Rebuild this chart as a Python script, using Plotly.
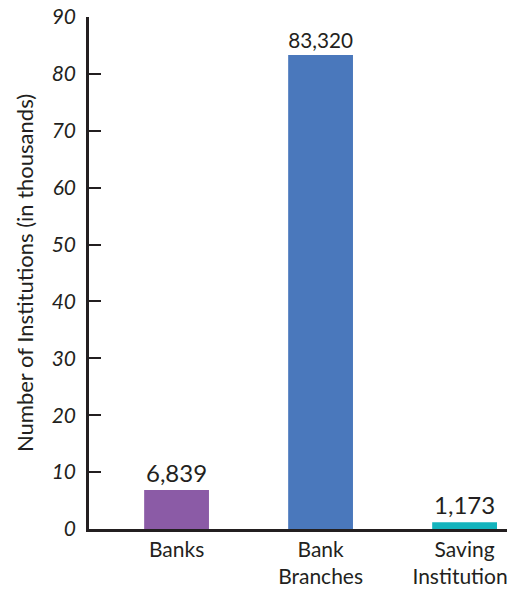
import plotly.graph_objects as go

categories = ["Banks", "Bank<br>Branches", "Saving<br>Institutions"]
counts = [6839, 83320, 1173]
colors = ["#8b5ba6", "#4a78bc", "#13b4bd"]
y_ticks = [0, 10, 20, 30, 40, 50, 60, 70, 80, 90]

values_k = [c / 1000 for c in counts]
labels = [f"{c:,}" for c in counts]

FONT = "Lato, 'Noto Sans', sans-serif"
INK = "#231f20"

fig = go.Figure(
    go.Bar(
        x=categories,
        y=values_k,
        marker=dict(color=colors, line=dict(width=0)),
        width=0.45,
        text=labels,
        textposition="outside",
        textfont=dict(family=FONT, size=24, color=INK),
        cliponaxis=False,
    )
)

# page body has an 8px default margin, so margins are offset accordingly
fig.update_layout(
    width=515,
    height=590,
    margin=dict(l=81, r=8, t=9, b=69),
    plot_bgcolor="white",
    paper_bgcolor="white",
    showlegend=False,
    font=dict(family=FONT, color=INK),
)

fig.update_xaxes(
    range=[-0.608, 2.35],
    showline=True,
    linecolor=INK,
    linewidth=2.5,
    ticks="",
    showgrid=False,
    automargin=False,
    ticklabeloverflow="allow",
    tickfont=dict(family=FONT, size=21, color=INK),
)

fig.update_yaxes(
    range=[0, 90],
    tickvals=y_ticks,
    ticktext=[f"<i>{t}</i>" for t in y_ticks],
    showline=True,
    linecolor=INK,
    linewidth=2.5,
    ticks="inside",
    ticklen=12,
    tickwidth=1.5,
    tickcolor=INK,
    ticklabelstandoff=6,
    ticklabeloverflow="allow",
    showgrid=False,
    zeroline=False,
    automargin=False,
    tickfont=dict(family=FONT, size=21, color=INK),
    title=dict(text="Number of Institutions (in thousands)",
               font=dict(family=FONT, size=22, color=INK), standoff=12),
)

fig.write_html("out.html")
